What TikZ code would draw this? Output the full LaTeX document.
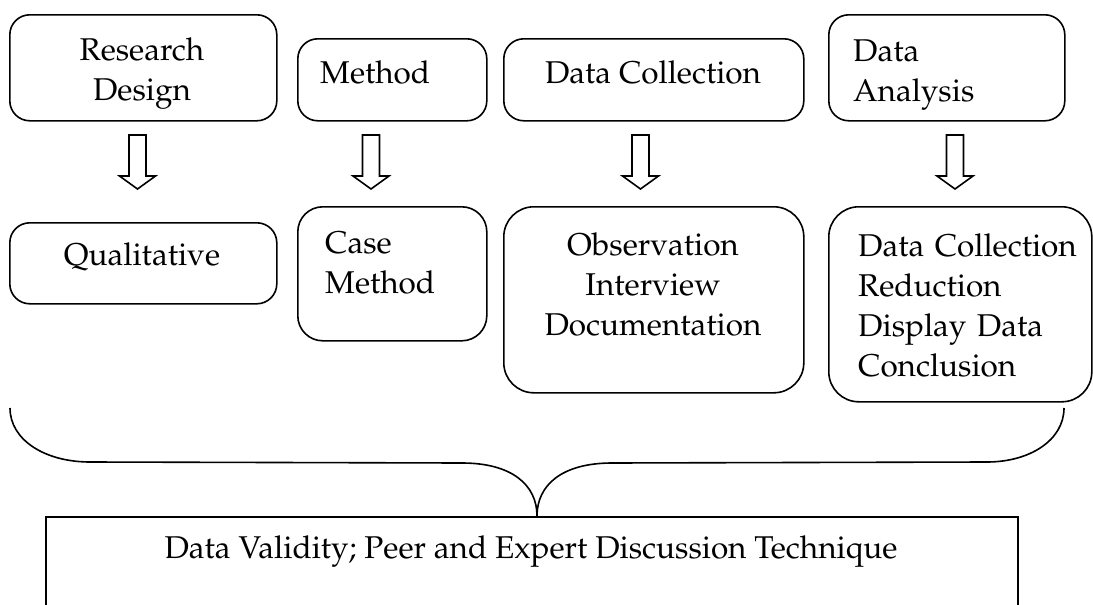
\documentclass[tikz,border=0pt]{standalone}
\usepackage[T1]{fontenc}
\renewcommand{\rmdefault}{ppl}
\usetikzlibrary{calc}
\begin{document}
\begin{tikzpicture}[x=1pt,y=-1pt,
  box/.style={draw, line width=1.6pt, rounded corners=20pt, inner sep=0pt, anchor=north west},
  plainbox/.style={draw, line width=1.6pt, inner sep=0pt, anchor=north west},
  txt/.style={inner sep=0pt, font=\fontsize{31.5}{40}\selectfont},
  hollow/.pic={\draw[line width=1.6pt, line join=miter]
    (-8.5,-27) -- (8.5,-27) -- (8.5,14) -- (18,14) -- (0,27) -- (-18,14) -- (-8.5,14) -- cycle;},
  bracestyle/.style={draw, line width=1.6pt}]
\clip (0,0) rectangle (1093,605);
% top row
\node[box, minimum width=267pt, minimum height=106pt] (rd) at (9,14) {};
\node[box, minimum width=189pt, minimum height=82pt] (me) at (297,38) {};
\node[box, minimum width=300pt, minimum height=82pt] (dc) at (503,38) {};
\node[box, minimum width=236pt, minimum height=106pt] (da) at (828,14) {};
% bottom row
\node[box, minimum width=267pt, minimum height=81pt] (qu) at (9,222) {};
\node[box, rounded corners=25pt, minimum width=189pt, minimum height=134pt] (cm) at (297,206) {};
\node[box, rounded corners=30pt, minimum width=300pt, minimum height=186pt] (ob) at (503,206) {};
\node[box, rounded corners=30pt, minimum width=263pt, minimum height=195pt] (dr) at (828,206) {};
% final box
\node[plainbox, minimum width=972pt, minimum height=130pt] (valid) at (45,516) {};
% texts
\node[txt, anchor=base, text width=240pt, align=center] (trd) at (142,60) {Research\\Design};
\node[txt, anchor=base west] (tme) at (320,83) {Method};
\node[txt, anchor=base] (tdc) at (653,83) {Data Collection};
\node[txt, anchor=base west, text width=200pt, align=left] (tda) at (853,61) {Data\\Analysis};
\node[txt, anchor=base] (tqu) at (142,265) {Qualitative};
\node[txt, anchor=base west, text width=160pt, align=left] (tcm) at (325,253) {Case\\Method};
\node[txt, anchor=base, text width=290pt, align=center] (tob) at (653,255) {Observation\\Interview\\Documentation};
\node[txt, anchor=base west, text width=230pt, align=left] (tdr) at (858,256) {Data Collection\\Reduction\\Display Data\\Conclusion};
\node[txt, anchor=base] (tva) at (531,558) {Data Validity; Peer and Expert Discussion Technique};
% hollow arrows
\pic (a1) at (137.5,162) {hollow};
\pic (a2) at (371,162) {hollow};
\pic (a3) at (640.5,162) {hollow};
\pic (a4) at (955,162) {hollow};
% brace
\coordinate (bl) at (10,408);
\coordinate (br) at (1064,408);
\coordinate (tip) at ($(valid.north west)+(492,0)$);
\draw[bracestyle] (bl) .. controls (10,440) and (45,462) .. (90,462) -- (462,463)
  .. controls (512,463) and (537,485) .. (tip)
  .. controls (537,485) and (562,463) .. (612,463) -- (987,462)
  .. controls (1030,462) and (1064,440) .. (br);
\end{tikzpicture}
\end{document}
